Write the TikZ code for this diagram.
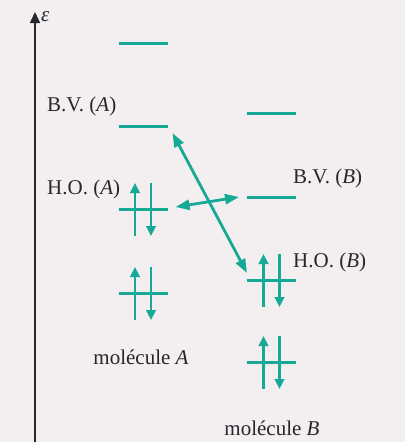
\documentclass[tikz,border=0pt]{standalone}
\usepackage{fontspec}
\setmainfont{Liberation Serif}
\usetikzlibrary{arrows.meta,calc}
\definecolor{teal1}{RGB}{22,170,150}
\definecolor{bg}{RGB}{243,239,241}
\definecolor{ink}{RGB}{38,38,44}
\begin{document}
\begin{tikzpicture}[x=1pt,y=-1pt,
 level/.style={draw=none,inner sep=0pt,outer sep=0pt,minimum width=49pt,minimum height=0pt},
 lvl/.style={teal1,line width=3pt},
 spin/.style={teal1,line width=2.8pt,-{Triangle[length=10pt,width=9.5pt]}},
 conn/.style={teal1,line width=2.8pt,{Triangle[length=14pt,width=10pt]}-{Triangle[length=14pt,width=10pt]}},
 lab/.style={ink,font=\fontsize{21}{23}\selectfont,inner sep=0pt},
 pair/.pic={\draw[spin] (-8,27) -- (-8,-26); \draw[spin] (8,-26) -- (8,27);}]
\fill[bg] (0,0) rectangle (405,442);
\useasboundingbox (0,0) rectangle (405,442);
% axis
\coordinate (axbot) at (35,442);
\coordinate (axtop) at (35,12);
\draw[ink,line width=1.5pt,-{Triangle[length=11pt,width=10pt]}] (axbot) -- (axtop);
\node[lab,anchor=west] (eps) at (41,17) {\textit{ε}};
% levels molecule A
\node[level] (a4) at (143,43) {};
\node[level] (bvA) at (143,126) {};
\node[level] (hoA) at (143,209) {};
\node[level] (a1) at (143,293) {};
% levels molecule B
\node[level] (b4) at (271.5,113) {};
\node[level] (bvB) at (271.5,197) {};
\node[level] (hoB) at (271.5,280) {};
\node[level] (b1) at (271.5,362) {};
\foreach \n in {a4,bvA,hoA,a1,b4,bvB,hoB,b1}
  \draw[lvl] (\n.west) -- (\n.east);
% electron pairs
\pic at (hoA) {pair};
\pic at (a1) {pair};
\pic at (hoB) {pair};
\pic at (b1) {pair};
% labels
\node[lab,anchor=west] (lbvA) at (47,106) {B.V. (\textit{A})};
\node[lab,anchor=west] (lhoA) at (47,189) {H.O. (\textit{A})};
\node[lab,anchor=west] (lbvB) at (293,178) {B.V. (\textit{B})};
\node[lab,anchor=west] (lhoB) at (293,262) {H.O. (\textit{B})};
\node[lab] (molA) at (141,357) {molécule \textit{A}};
\node[lab] (molB) at (272,428) {molécule \textit{B}};
% interactions
\draw[conn] ($(bvA.east)+(5,7)$) -- ($(hoB.west)+(0,-7)$);
\draw[conn] ($(hoA.east)+(8,-2)$) -- ($(bvB.west)+(-8,0)$);
\end{tikzpicture}
\end{document}
